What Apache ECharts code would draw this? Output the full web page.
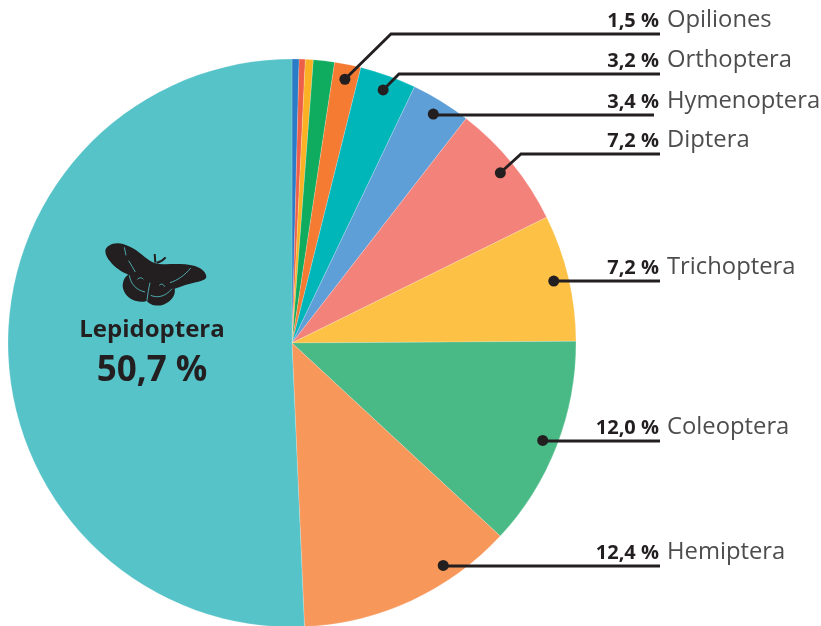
<!DOCTYPE html>
<html>
<head>
<meta charset="utf-8">
<style>html,body{margin:0;padding:0;background:#fff}#c{width:821px;height:626px}</style>
<script src="https://cdn.jsdelivr.net/npm/echarts@6/dist/echarts.min.js"></script>
</head>
<body>
<div id="c"></div>
<script>
// Insect orders, clockwise from twelve o'clock (share of species, %)
const orders = ['Blattodea', 'Mantodea', 'Neuroptera', 'Araneae', 'Opiliones', 'Orthoptera', 'Hymenoptera', 'Diptera', 'Trichoptera', 'Coleoptera', 'Hemiptera', 'Lepidoptera'];
const shares = [0.4, 0.35, 0.45, 1.2, 1.5, 3.2, 3.4, 7.2, 7.2, 12.0, 12.4, 50.7];
const shareLabels = ['', '', '', '', '1,5 %', '3,2 %', '3,4 %', '7,2 %', '7,2 %', '12,0 %', '12,4 %', '50,7 %'];
const colors = ['#2b7cc6', '#ee5f48', '#fbb124', '#0fab5e', '#f47b31', '#00b6b9', '#5f9fd8', '#f3827a', '#fdc146', '#49ba85', '#f7975a', '#56c3c9'];

// Leader line layout: order, end of the rule, height of the rule, elbow x (null = straight)
const leaders = [
  { name: 'Opiliones',   endX: 660, y: 34,  elbowX: 391, at: 3.15 },
  { name: 'Orthoptera',  endX: 660, y: 74,  elbowX: 399, at: 5.5 },
  { name: 'Hymenoptera', endX: 654, y: 115, elbowX: null, at: 8.8 },
  { name: 'Diptera',     endX: 660, y: 154, elbowX: 521, at: 14.1 },
  { name: 'Trichoptera', endX: 660, y: 281, elbowX: null, at: 21.3 },
  { name: 'Coleoptera',  endX: 660, y: 441, elbowX: null, at: 30.9 },
  { name: 'Hemiptera',   endX: 660, y: 566, elbowX: null, at: 40.5 }
];

const cx = 292, cy = 343, R = 284, dotR = 269;
const ink = '#231f20';
const fam = '"Open Sans", sans-serif';
const valueSize = 20, valueRight = 659, valueGap = 8;

// Width of a bold percentage, so every figure ends flush against its order name
const measure = document.createElement('canvas').getContext('2d');
measure.font = `700 ${valueSize}px ${fam}`;

function anchor(l) {
  const a = l.at / 100 * 2 * Math.PI;
  return [cx + dotR * Math.sin(a), cy - dotR * Math.cos(a)];
}

const pieData = orders.map((name, i) => {
  const isMain = name === 'Lepidoptera';
  const hasLeader = leaders.some(l => l.name === name);
  return {
    name,
    value: shares[i],
    itemStyle: { color: colors[i] },
    label: {
      show: isMain || hasLeader,
      formatter: isMain ? `{mn|${name}}\n{mv|${shareLabels[i]}}` : `{v|${shareLabels[i]}}{n|${name}}`
    }
  };
});

// Moth silhouette, drawn in its own 3x design grid
const mothBody = 'M16,38 C18,25 35,15 55,16 C85,18 115,40 135,58 C145,66 155,72 163,75 L178,78 C210,80 250,75 285,84 C305,90 320,105 319,118 C315,128 295,132 270,137 C250,142 235,148 224,152 C228,170 215,190 190,200 C170,207 148,200 140,188 C135,192 120,192 105,188 C85,182 70,165 68,145 C68,128 75,115 85,110 C70,105 45,90 30,70 C22,60 16,50 16,38 Z';
const mothFeelers = 'M166,74 L164,48 M170,74 C180,72 190,66 197,58';
const mothVeins = 'M73,28 L78,52 M86,68 C92,80 100,90 106,102 M210,134 C230,128 255,112 272,90 M88,112 C92,135 105,155 135,162 M152,172 C170,180 195,178 216,152 M112,124 C118,118 126,118 130,124 M178,142 C184,136 190,138 194,146 M141,188 C143,170 146,150 150,134';

const chart = echarts.init(document.getElementById('c'), null, { renderer: 'canvas' });
chart.setOption({
  animation: false,
  backgroundColor: '#fff',
  polar: { center: [cx, cy], radius: R },
  angleAxis: { type: 'value', min: 0, max: 100, startAngle: 90, clockwise: true, show: false },
  radiusAxis: { type: 'value', min: 0, max: R, show: false },
  series: [
    {
      type: 'pie',
      center: [cx, cy],
      radius: [0, R],
      startAngle: 90,
      clockwise: true,
      silent: true,
      avoidLabelOverlap: false,
      data: pieData,
      itemStyle: { borderColor: 'rgba(255,255,255,0.3)', borderWidth: 0.6 },
      label: {
        position: 'outside',
        fontFamily: fam,
        rich: {
          v: { fontFamily: fam, fontWeight: 700, fontSize: valueSize, color: ink, padding: [2, valueGap, 0, 0] },
          n: { fontFamily: fam, fontSize: 23.8, color: '#4d4d4f' },
          mn: { fontFamily: fam, fontWeight: 700, fontSize: 24, color: ink, align: 'center', lineHeight: 40 },
          mv: { fontFamily: fam, fontWeight: 700, fontSize: 35, color: ink, align: 'center', lineHeight: 42 }
        }
      },
      labelLine: { show: false },
      labelLayout(p) {
        const name = orders[p.dataIndex];
        if (name === 'Lepidoptera') {
          return { x: 152, y: 351, align: 'center', verticalAlign: 'middle' };
        }
        const l = leaders.find(d => d.name === name);
        if (!l) return {};
        const w = measure.measureText(shareLabels[p.dataIndex]).width;
        return { x: valueRight - w, y: l.y - 14, align: 'left', verticalAlign: 'middle' };
      }
    },
    {
      // Leader rules run from each dot to its label, above the slices
      type: 'custom',
      coordinateSystem: 'none',
      silent: true,
      z: 4,
      data: leaders.map((l, i) => [i]),
      renderItem(params, api) {
        const l = leaders[api.value(0)];
        const a = anchor(l);
        const points = l.elbowX == null
          ? [[a[0], l.y], [l.endX, l.y]]
          : [a, [l.elbowX, l.y], [l.endX, l.y]];
        return {
          type: 'polyline',
          shape: { points },
          style: { fill: 'none', stroke: ink, lineWidth: 2.8 }
        };
      }
    },
    {
      // Anchor dots sit on a polar scale sharing the pie's centre and radius
      type: 'scatter',
      coordinateSystem: 'polar',
      silent: true,
      z: 5,
      symbolSize: 11,
      itemStyle: { color: ink, opacity: 1 },
      data: leaders.map(l => [dotR, l.at])
    },
    {
      type: 'custom',
      coordinateSystem: 'none',
      silent: true,
      z: 6,
      data: [[0]],
      renderItem() {
        return {
          type: 'group',
          x: 100, y: 238, scaleX: 1 / 3, scaleY: 1 / 3,
          children: [
            { type: 'path', shape: { pathData: mothBody }, style: { fill: ink } },
            { type: 'path', shape: { pathData: mothFeelers }, style: { fill: 'none', stroke: ink, lineWidth: 6 } },
            { type: 'path', shape: { pathData: mothVeins }, style: { fill: 'none', stroke: '#56c3c9', lineWidth: 2.5 } }
          ]
        };
      }
    }
  ]
});
</script>
</body>
</html>
